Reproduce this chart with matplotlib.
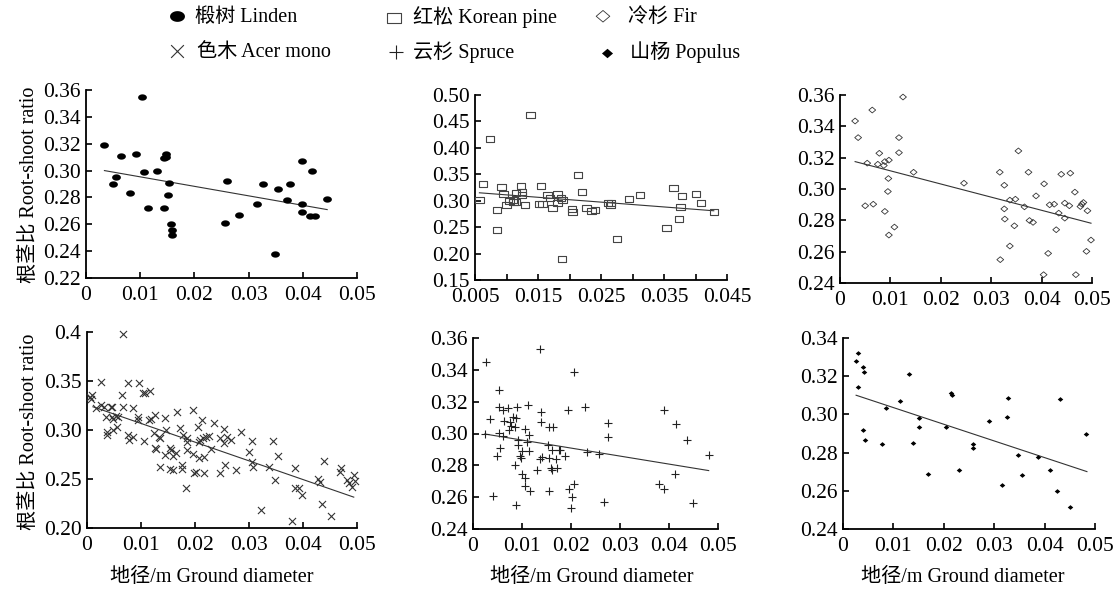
import numpy as np
import matplotlib
matplotlib.use("Agg")
import matplotlib.pyplot as plt
from matplotlib.ticker import FixedLocator, FixedFormatter
from matplotlib.path import Path

plt.rcParams['font.family'] = ['Liberation Serif', 'Noto Sans CJK SC']

# ---------------- data ----------------
species_labels = ["椴树 Linden", "红松 Korean pine", "冷杉 Fir",
                  "色木 Acer mono", "云杉 Spruce", "山杨 Populus"]

linden_x = [0.0034, 0.0104, 0.0049, 0.0055, 0.0064, 0.0081, 0.0093, 0.0107, 0.0114, 0.0131,
            0.0143, 0.0144, 0.0147, 0.0148, 0.0153, 0.0151, 0.0157, 0.0159, 0.0159, 0.0256,
            0.0260, 0.0283, 0.0316, 0.0327, 0.0355, 0.0349, 0.0370, 0.0376, 0.0398, 0.0398,
            0.0398, 0.0417, 0.0414, 0.0423, 0.0445]
linden_y = [0.319, 0.355, 0.290, 0.295, 0.311, 0.283, 0.312, 0.299, 0.272, 0.300,
            0.272, 0.309, 0.312, 0.310, 0.291, 0.282, 0.260, 0.2555, 0.252, 0.261,
            0.292, 0.267, 0.275, 0.290, 0.286, 0.238, 0.278, 0.290, 0.307, 0.275,
            0.269, 0.300, 0.266, 0.266, 0.279]

pine_x = [0.0057, 0.0063, 0.0074, 0.0085, 0.0085, 0.0092, 0.0095, 0.0100, 0.0105, 0.0110,
          0.0111, 0.0115, 0.0115, 0.0123, 0.0125, 0.0125, 0.0129, 0.0138, 0.0152, 0.0155,
          0.0157, 0.0165, 0.0169, 0.0173, 0.0181, 0.0181, 0.0187, 0.0189, 0.0188, 0.0204,
          0.0205, 0.0213, 0.0220, 0.0227, 0.0235, 0.0240, 0.0261, 0.0266, 0.0265, 0.0275,
          0.0294, 0.0312, 0.0354, 0.0365, 0.0376, 0.0374, 0.0379, 0.0401, 0.0409, 0.0429]
pine_y = [0.302, 0.331, 0.416, 0.282, 0.244, 0.326, 0.312, 0.291, 0.300, 0.302,
          0.298, 0.314, 0.297, 0.328, 0.316, 0.310, 0.291, 0.463, 0.293, 0.328,
          0.294, 0.311, 0.305, 0.286, 0.312, 0.296, 0.306, 0.302, 0.189, 0.284,
          0.279, 0.349, 0.316, 0.287, 0.280, 0.282, 0.296, 0.296, 0.291, 0.227,
          0.303, 0.311, 0.248, 0.324, 0.288, 0.265, 0.308, 0.313, 0.295, 0.279]

fir_x = [0.0030, 0.0036, 0.0064, 0.0050, 0.0054, 0.0066, 0.0075, 0.0078, 0.0087, 0.0089,
         0.0089, 0.0097, 0.0096, 0.0095, 0.0097, 0.0108, 0.0117, 0.0117, 0.0125, 0.0146,
         0.0246, 0.0317, 0.0326, 0.0326, 0.0327, 0.0318, 0.0337, 0.0337, 0.0348, 0.0346,
         0.0354, 0.0366, 0.0374, 0.0376, 0.0383, 0.0389, 0.0405, 0.0404, 0.0413, 0.0416,
         0.0425, 0.0429, 0.0434, 0.0439, 0.0446, 0.0446, 0.0455, 0.0457, 0.0466, 0.0468,
         0.0477, 0.0480, 0.0483, 0.0489, 0.0491, 0.0498]
fir_y = [0.3434, 0.3328, 0.3504, 0.2893, 0.3165, 0.2903, 0.3158, 0.3228, 0.3150, 0.3175,
         0.2857, 0.3184, 0.3067, 0.2984, 0.2706, 0.2757, 0.3328, 0.3232, 0.3587, 0.3107,
         0.3037, 0.3107, 0.3024, 0.2873, 0.2808, 0.2549, 0.2636, 0.2929, 0.2935, 0.2765,
         0.3243, 0.2886, 0.3107, 0.2799, 0.2787, 0.2956, 0.3033, 0.2453, 0.2589, 0.2899,
         0.2903, 0.2740, 0.2846, 0.3094, 0.2910, 0.2814, 0.2893, 0.3101, 0.2980, 0.2453,
         0.2888, 0.2903, 0.2914, 0.2602, 0.2861, 0.2674]

acer_x = [0.0006, 0.0010, 0.0008, 0.0016, 0.0025, 0.0025, 0.0031, 0.0036, 0.0037, 0.0037,
          0.0044, 0.0047, 0.0046, 0.0049, 0.0049, 0.0056, 0.0054, 0.0057, 0.0065, 0.0066,
          0.0066, 0.0075, 0.0076, 0.0077, 0.0085, 0.0086, 0.0094, 0.0095, 0.0096, 0.0104,
          0.0105, 0.0107, 0.0116, 0.0115, 0.0118, 0.0124, 0.0125, 0.0125, 0.0127, 0.0133,
          0.0135, 0.0136, 0.0144, 0.0145, 0.0147, 0.0154, 0.0156, 0.0154, 0.0159, 0.0160,
          0.0167, 0.0165, 0.0173, 0.0175, 0.0175, 0.0178, 0.0184, 0.0185, 0.0186, 0.0186,
          0.0196, 0.0196, 0.0198, 0.0201, 0.0205, 0.0207, 0.0207, 0.0210, 0.0213, 0.0215,
          0.0216, 0.0216, 0.0221, 0.0226, 0.0230, 0.0236, 0.0246, 0.0246, 0.0254, 0.0253,
          0.0256, 0.0260, 0.0266, 0.0275, 0.0285, 0.0300, 0.0306, 0.0306, 0.0307, 0.0323,
          0.0337, 0.0344, 0.0348, 0.0354, 0.0379, 0.0385, 0.0386, 0.0392, 0.0399, 0.0428,
          0.0432, 0.0435, 0.0438, 0.0452, 0.0468, 0.0471, 0.0481, 0.0485, 0.0490, 0.0494,
          0.0496]
acer_y = [0.3339, 0.3356, 0.3320, 0.3220, 0.3490, 0.3260, 0.3230, 0.3136, 0.2983, 0.2949,
          0.3230, 0.3230, 0.3129, 0.3108, 0.3000, 0.3027, 0.3142, 0.3129, 0.3356, 0.3230,
          0.3976, 0.3475, 0.2949, 0.2898, 0.3220, 0.2932, 0.3136, 0.3102, 0.3475, 0.3380,
          0.2888, 0.3380, 0.3397, 0.3102, 0.3108, 0.2966, 0.3153, 0.2820, 0.2810, 0.2932,
          0.2915, 0.2627, 0.3119, 0.2746, 0.3000, 0.2820, 0.2797, 0.2600, 0.2736, 0.2593,
          0.3186, 0.2763, 0.3017, 0.2644, 0.2600, 0.2949, 0.2407, 0.2797, 0.2915, 0.2881,
          0.3203, 0.2753, 0.2566, 0.2576, 0.3034, 0.2881, 0.2712, 0.2898, 0.3102, 0.2915,
          0.2729, 0.2566, 0.2932, 0.2942, 0.2803, 0.3068, 0.2915, 0.2566, 0.3007, 0.2864,
          0.2644, 0.2932, 0.2898, 0.2593, 0.2983, 0.2780, 0.2891, 0.2678, 0.2620, 0.2180,
          0.2627, 0.2891, 0.2485, 0.2736, 0.2068, 0.2610, 0.2407, 0.2407, 0.2339, 0.2498,
          0.2465, 0.2244, 0.2685, 0.2119, 0.2576, 0.2617, 0.2492, 0.2458, 0.2414, 0.2542,
          0.2481]

spruce_x = [0.0027, 0.0025, 0.0035, 0.0041, 0.0048, 0.0054, 0.0054, 0.0054, 0.0056, 0.0061,
            0.0061, 0.0063, 0.0072, 0.0073, 0.0076, 0.0078, 0.0082, 0.0086, 0.0086, 0.0088,
            0.0090, 0.0087, 0.0092, 0.0092, 0.0095, 0.0098, 0.0099, 0.0099, 0.0106, 0.0107,
            0.0106, 0.0110, 0.0113, 0.0114, 0.0114, 0.0116, 0.0130, 0.0136, 0.0138, 0.0139,
            0.0136, 0.0141, 0.0155, 0.0156, 0.0156, 0.0154, 0.0160, 0.0162, 0.0162, 0.0164,
            0.0170, 0.0171, 0.0175, 0.0178, 0.0188, 0.0193, 0.0196, 0.0203, 0.0201, 0.0207,
            0.0207, 0.0229, 0.0233, 0.0257, 0.0267, 0.0275, 0.0275, 0.0380, 0.0389, 0.0390,
            0.0415, 0.0412, 0.0437, 0.0449, 0.0481]
spruce_y = [0.3451, 0.2995, 0.3093, 0.2609, 0.2859, 0.3273, 0.3166, 0.3001, 0.2907, 0.3149,
            0.2982, 0.3076, 0.3158, 0.3020, 0.3070, 0.3049, 0.3104, 0.3041, 0.2802, 0.3099,
            0.3164, 0.2553, 0.2930, 0.2957, 0.2857, 0.2846, 0.2888, 0.2748, 0.3031, 0.2723,
            0.2673, 0.2947, 0.3177, 0.2991, 0.2888, 0.2639, 0.2769, 0.3531, 0.3137, 0.3070,
            0.2840, 0.2852, 0.2846, 0.3039, 0.2641, 0.2930, 0.2783, 0.2894, 0.2769, 0.3039,
            0.2840, 0.2785, 0.2898, 0.2894, 0.2861, 0.3148, 0.2653, 0.2599, 0.2532, 0.2685,
            0.3386, 0.3166, 0.2884, 0.2873, 0.2572, 0.3064, 0.2976, 0.2685, 0.3146, 0.2651,
            0.3060, 0.2744, 0.2959, 0.2561, 0.2863]

populus_x = [0.0026, 0.0030, 0.0029, 0.0039, 0.0041, 0.0040, 0.0044, 0.0078, 0.0085, 0.0114,
             0.0130, 0.0139, 0.0151, 0.0151, 0.0169, 0.0205, 0.0215, 0.0216, 0.0230, 0.0257,
             0.0258, 0.0290, 0.0315, 0.0326, 0.0328, 0.0348, 0.0355, 0.0387, 0.0411, 0.0424,
             0.0431, 0.0451, 0.0482]
populus_y = [0.3278, 0.3321, 0.3142, 0.3246, 0.3220, 0.2917, 0.2864, 0.2845, 0.3033, 0.3068,
             0.3213, 0.2850, 0.2979, 0.2934, 0.2690, 0.2932, 0.3114, 0.3100, 0.2711, 0.2845,
             0.2824, 0.2963, 0.2629, 0.2988, 0.3088, 0.2787, 0.2683, 0.2777, 0.2711, 0.2599,
             0.3079, 0.2515, 0.2896]

# fitted trend lines: (slope, intercept, x_start, x_end)
linden_fit = (-0.707, 0.3024, 0.0034, 0.0445)
pine_fit = (-0.914, 0.3202, 0.0057, 0.0429)
fir_fit = (-0.840, 0.3200, 0.0030, 0.0498)
acer_fit = (-1.909, 0.3258, 0.0011, 0.0494)
spruce_fit = (-0.503, 0.3009, 0.0024, 0.0481)
populus_fit = (-0.873, 0.3123, 0.0026, 0.0484)

# tick labels
x_ticks_std = [0, 0.01, 0.02, 0.03, 0.04, 0.05]
x_labels_std = ["0", "0.01", "0.02", "0.03", "0.04", "0.05"]
pine_xticks = [0.005, 0.015, 0.025, 0.035, 0.045]
pine_xlabels = ["0.005", "0.015", "0.025", "0.035", "0.045"]
pine_xminor = [0.010, 0.020, 0.030, 0.040]

linden_yticks = [0.22, 0.24, 0.26, 0.28, 0.30, 0.32, 0.34, 0.36]
pine_yticks = [0.15, 0.20, 0.25, 0.30, 0.35, 0.40, 0.45, 0.50]
fir_yticks = [0.24, 0.26, 0.28, 0.30, 0.32, 0.34, 0.36]
acer_yticks = [0.20, 0.25, 0.30, 0.35, 0.40]
acer_ylabels = ["0.20", "0.25", "0.30", "0.35", "0.4"]
spruce_yticks = [0.24, 0.26, 0.28, 0.30, 0.32, 0.34, 0.36]
populus_yticks = [0.24, 0.26, 0.28, 0.30, 0.32, 0.34]

ylabel_text = "根茎比 Root-shoot ratio"
xlabel_text = "地径/m Ground diameter"

# ---------------- marker shapes ----------------
_t = np.linspace(0, 2 * np.pi, 33)
ellipse_marker = Path(np.column_stack([np.cos(_t), 0.72 * np.sin(_t)]), closed=True)
rect_marker = Path([(-1, -0.72), (1, -0.72), (1, 0.72), (-1, 0.72), (-1, -0.72)], closed=True)
diamond_marker = Path([(0, -0.85), (1, 0), (0, 0.85), (-1, 0), (0, -0.85)], closed=True)

# ---------------- figure ----------------
W, H = 1114, 589
fig = plt.figure(figsize=(W / 100, H / 100), dpi=100)

def px_rect(l, r, t, b):
    return [l / W, 1 - b / H, (r - l) / W, (b - t) / H]

rects = {
    "linden": px_rect(86, 357, 90, 278),
    "pine": px_rect(475, 727, 95, 280),
    "fir": px_rect(840, 1092, 95, 283),
    "acer": px_rect(87, 357, 332, 528),
    "spruce": px_rect(473, 718, 338, 529),
    "populus": px_rect(843, 1095, 338, 529),
}

TICK_FS = 15.5

def style_ax(ax, xticks, xlabels, yticks, ylabels, xlim, ylim, xminor=None):
    for s in ("top", "right"):
        ax.spines[s].set_visible(False)
    for s in ("left", "bottom"):
        ax.spines[s].set_linewidth(1.3)
        ax.spines[s].set_color("black")
    ax.set_xlim(*xlim)
    ax.set_ylim(*ylim)
    ax.xaxis.set_major_locator(FixedLocator(xticks))
    ax.xaxis.set_major_formatter(FixedFormatter(xlabels))
    ax.yaxis.set_major_locator(FixedLocator(yticks))
    ax.yaxis.set_major_formatter(FixedFormatter(ylabels))
    if xminor is not None:
        ax.xaxis.set_minor_locator(FixedLocator(xminor))
        ax.tick_params(axis="x", which="minor", direction="in", length=4, width=1.2)
    ax.tick_params(axis="both", which="major", direction="in", length=4, width=1.2,
                   labelsize=TICK_FS)
    ax.tick_params(axis="x", which="major", pad=6)
    ax.tick_params(axis="y", which="major", pad=4)
    ax.patch.set_alpha(0)

def draw_fit(ax, fit):
    slope, intercept, x0, x1 = fit
    xs = np.array([x0, x1])
    ax.plot(xs, slope * xs + intercept, color="#333333", lw=0.8, zorder=2)

handles = {}

# Linden
ax = fig.add_axes(rects["linden"])
handles["linden"] = ax.scatter(linden_x, linden_y, s=40, marker=ellipse_marker, c="black",
                               linewidths=0, zorder=3, clip_on=False)
draw_fit(ax, linden_fit)
style_ax(ax, x_ticks_std, x_labels_std, linden_yticks,
         [f"{v:.2f}" for v in linden_yticks], (0, 0.05), (0.22, 0.36))

# Korean pine
ax = fig.add_axes(rects["pine"])
handles["pine"] = ax.scatter(pine_x, pine_y, s=36, marker=rect_marker, facecolors="none",
                             edgecolors="#444444", linewidths=0.8, zorder=3, clip_on=False)
draw_fit(ax, pine_fit)
style_ax(ax, pine_xticks, pine_xlabels, pine_yticks,
         [f"{v:.2f}" for v in pine_yticks], (0.005, 0.045), (0.15, 0.50), xminor=pine_xminor)

# Fir
ax = fig.add_axes(rects["fir"])
handles["fir"] = ax.scatter(fir_x, fir_y, s=24, marker=diamond_marker, facecolors="none",
                            edgecolors="#333333", linewidths=0.6, zorder=3, clip_on=False)
draw_fit(ax, fir_fit)
style_ax(ax, x_ticks_std, x_labels_std, fir_yticks,
         [f"{v:.2f}" for v in fir_yticks], (0, 0.05), (0.24, 0.36))

# Acer mono
ax = fig.add_axes(rects["acer"])
handles["acer"] = ax.scatter(acer_x, acer_y, s=26, marker="x", c="#333333",
                             linewidths=0.8, zorder=3, clip_on=False)
draw_fit(ax, acer_fit)
style_ax(ax, x_ticks_std, x_labels_std, acer_yticks, acer_ylabels, (0, 0.05), (0.20, 0.40))

# Spruce
ax = fig.add_axes(rects["spruce"])
handles["spruce"] = ax.scatter(spruce_x, spruce_y, s=28, marker="+", c="#222222",
                               linewidths=0.8, zorder=3, clip_on=False)
draw_fit(ax, spruce_fit)
style_ax(ax, x_ticks_std, x_labels_std, spruce_yticks,
         [f"{v:.2f}" for v in spruce_yticks], (0, 0.05), (0.24, 0.36))

# Populus
ax = fig.add_axes(rects["populus"])
handles["populus"] = ax.scatter(populus_x, populus_y, s=16, marker=diamond_marker, c="black",
                                linewidths=0, zorder=3, clip_on=False)
draw_fit(ax, populus_fit)
style_ax(ax, x_ticks_std, x_labels_std, populus_yticks,
         [f"{v:.2f}" for v in populus_yticks], (0, 0.05), (0.24, 0.34))

# axis labels
fig.text(30 / W, 1 - 185 / H, ylabel_text, rotation=90, ha="center", va="center",
         fontsize=14.5)
fig.text(30 / W, 1 - 432 / H, ylabel_text, rotation=90, ha="center", va="center",
         fontsize=14.5)
for cx in (212, 592, 963):
    fig.text(cx / W, 1 - 577 / H, xlabel_text, ha="center", va="center", fontsize=14.5)

# legend: one single-entry legend per item, placed as in the original key
LEG_FS = 14.5
em = LEG_FS * 100 / 72.0  # px per em
label_map = dict(zip(["linden", "pine", "fir", "acer", "spruce", "populus"], species_labels))
# (key, marker centre x px, text start x px, row centre y px, marker scale)
legend_layout = [("linden", 177, 195, 17, 1.7), ("pine", 394, 413, 17, 1.7),
                 ("fir", 603, 628, 17, 2.0), ("acer", 177, 197, 52, 1.8),
                 ("spruce", 396, 413, 52, 1.8), ("populus", 607, 630, 52, 2.0)]
hl = 0.8
bp = 0.2
for key, mx, tx, ry, ms in legend_layout:
    x0 = mx - (bp + hl / 2) * em
    hp = (tx - mx - hl / 2 * em) / em
    fig.legend([handles[key]], [label_map[key]], loc="center left",
               bbox_to_anchor=(x0 / W, 1 - ry / H), frameon=False, fontsize=LEG_FS,
               handletextpad=hp, handlelength=hl, scatterpoints=1, markerscale=ms,
               borderpad=bp, borderaxespad=0)

fig.savefig("out.png", dpi=100)
